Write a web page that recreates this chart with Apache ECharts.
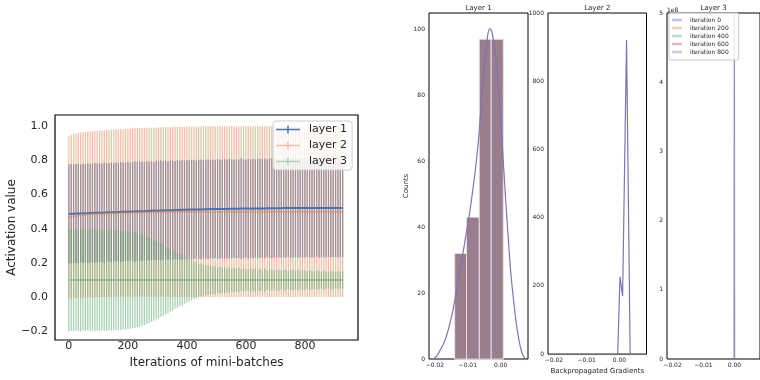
<!DOCTYPE html>
<html>
<head>
<meta charset="utf-8">
<script src="https://cdn.jsdelivr.net/npm/echarts@6/dist/echarts.min.js"></script>
<style>
  html, body { margin: 0; padding: 0; background: #fff; }
  #chart { width: 760px; height: 380px; }
</style>
</head>
<body>
<div id="chart"></div>
<script>
// ---- left panel: activation values per layer (mean +/- std) ----
const iterations = [
  0, 8, 16, 24, 32, 40, 48, 56, 64, 72,
  80, 88, 96, 104, 112, 120, 128, 136, 144, 152,
  160, 168, 176, 184, 192, 200, 208, 216, 224, 232,
  240, 248, 256, 264, 272, 280, 288, 296, 304, 312,
  320, 328, 336, 344, 352, 360, 368, 376, 384, 392,
  400, 408, 416, 424, 432, 440, 448, 456, 464, 472,
  480, 488, 496, 504, 512, 520, 528, 536, 544, 552,
  560, 568, 576, 584, 592, 600, 608, 616, 624, 632,
  640, 648, 656, 664, 672, 680, 688, 696, 704, 712,
  720, 728, 736, 744, 752, 760, 768, 776, 784, 792,
  800, 808, 816, 824, 832, 840, 848, 856, 864, 872,
  880, 888, 896, 904, 912, 920, 928
]

const layer1Mean = [
  0.487, 0.488, 0.488, 0.489, 0.489, 0.490, 0.490, 0.491, 0.491, 0.492,
  0.492, 0.493, 0.493, 0.494, 0.494, 0.495, 0.495, 0.496, 0.496, 0.497,
  0.497, 0.498, 0.498, 0.499, 0.499, 0.500, 0.500, 0.501, 0.501, 0.502,
  0.502, 0.503, 0.503, 0.504, 0.504, 0.505, 0.505, 0.506, 0.506, 0.507,
  0.507, 0.508, 0.508, 0.509, 0.509, 0.510, 0.510, 0.510, 0.511, 0.511,
  0.511, 0.512, 0.512, 0.512, 0.513, 0.513, 0.513, 0.514, 0.514, 0.514,
  0.515, 0.515, 0.515, 0.515, 0.516, 0.516, 0.516, 0.516, 0.517, 0.517,
  0.517, 0.517, 0.517, 0.518, 0.518, 0.518, 0.518, 0.518, 0.519, 0.519,
  0.519, 0.519, 0.519, 0.519, 0.520, 0.520, 0.520, 0.520, 0.520, 0.520,
  0.520, 0.521, 0.521, 0.521, 0.521, 0.521, 0.521, 0.521, 0.521, 0.522,
  0.522, 0.522, 0.522, 0.522, 0.522, 0.522, 0.522, 0.522, 0.522, 0.522,
  0.522, 0.522, 0.522, 0.522, 0.522, 0.522, 0.522
]
const layer1Std = [
  0.288, 0.290, 0.287, 0.289, 0.291, 0.286, 0.290, 0.288, 0.292, 0.287,
  0.289, 0.291, 0.288, 0.290, 0.286, 0.292, 0.289, 0.287, 0.291, 0.288,
  0.290, 0.287, 0.292, 0.289, 0.288, 0.291, 0.286, 0.290, 0.293, 0.288,
  0.289, 0.291, 0.287, 0.292, 0.288, 0.290, 0.286, 0.291, 0.289, 0.293,
  0.288, 0.290, 0.287, 0.291, 0.289, 0.286, 0.292, 0.288, 0.290, 0.287,
  0.291, 0.289, 0.293, 0.288, 0.286, 0.290, 0.292, 0.287, 0.289, 0.291,
  0.288, 0.290, 0.286, 0.293, 0.289, 0.287, 0.291, 0.288, 0.292, 0.289,
  0.287, 0.290, 0.288, 0.294, 0.289, 0.286, 0.291, 0.288, 0.290, 0.287,
  0.292, 0.289, 0.288, 0.291, 0.286, 0.290, 0.293, 0.288, 0.289, 0.287,
  0.291, 0.288, 0.290, 0.286, 0.292, 0.289, 0.287, 0.291, 0.288, 0.290,
  0.289, 0.287, 0.292, 0.288, 0.290, 0.286, 0.291, 0.289, 0.288, 0.290,
  0.287, 0.291, 0.289, 0.288, 0.290, 0.287, 0.289
]

const layer2Mean = [
  0.467, 0.471, 0.474, 0.476, 0.478, 0.480, 0.481, 0.482, 0.483, 0.484,
  0.485, 0.486, 0.487, 0.488, 0.488, 0.489, 0.490, 0.490, 0.491, 0.491,
  0.492, 0.492, 0.493, 0.493, 0.494, 0.494, 0.494, 0.495, 0.495, 0.495,
  0.496, 0.496, 0.496, 0.496, 0.497, 0.497, 0.497, 0.497, 0.498, 0.498,
  0.498, 0.498, 0.498, 0.498, 0.499, 0.499, 0.499, 0.499, 0.499, 0.499,
  0.500, 0.500, 0.500, 0.500, 0.500, 0.500, 0.500, 0.500, 0.500, 0.500,
  0.500, 0.500, 0.500, 0.500, 0.500, 0.500, 0.500, 0.500, 0.500, 0.500,
  0.500, 0.500, 0.500, 0.500, 0.500, 0.500, 0.500, 0.500, 0.500, 0.500,
  0.500, 0.500, 0.500, 0.500, 0.500, 0.500, 0.500, 0.500, 0.500, 0.500,
  0.500, 0.500, 0.500, 0.500, 0.500, 0.500, 0.500, 0.500, 0.500, 0.500,
  0.500, 0.500, 0.500, 0.500, 0.500, 0.500, 0.500, 0.500, 0.500, 0.500,
  0.500, 0.500, 0.500, 0.500, 0.500, 0.500, 0.500
]
const layer2Std = [
  0.475, 0.478, 0.480, 0.481, 0.482, 0.483, 0.483, 0.484, 0.484, 0.485,
  0.485, 0.486, 0.486, 0.487, 0.487, 0.488, 0.488, 0.488, 0.489, 0.489,
  0.489, 0.490, 0.490, 0.490, 0.491, 0.491, 0.491, 0.492, 0.492, 0.492,
  0.493, 0.493, 0.493, 0.494, 0.494, 0.494, 0.494, 0.495, 0.495, 0.495,
  0.495, 0.496, 0.496, 0.496, 0.496, 0.497, 0.497, 0.497, 0.497, 0.497,
  0.498, 0.498, 0.498, 0.498, 0.498, 0.498, 0.499, 0.499, 0.499, 0.499,
  0.499, 0.499, 0.499, 0.499, 0.499, 0.499, 0.499, 0.499, 0.499, 0.499,
  0.499, 0.499, 0.499, 0.499, 0.499, 0.499, 0.499, 0.499, 0.499, 0.499,
  0.499, 0.499, 0.499, 0.499, 0.499, 0.499, 0.499, 0.499, 0.499, 0.499,
  0.499, 0.499, 0.499, 0.499, 0.499, 0.499, 0.499, 0.499, 0.499, 0.499,
  0.499, 0.499, 0.499, 0.499, 0.499, 0.499, 0.499, 0.499, 0.499, 0.499,
  0.499, 0.499, 0.499, 0.499, 0.499, 0.499, 0.499
]

const layer3Mean = [
  0.100, 0.100, 0.100, 0.100, 0.100, 0.100, 0.100, 0.100, 0.100, 0.100,
  0.100, 0.100, 0.100, 0.100, 0.100, 0.100, 0.100, 0.100, 0.100, 0.100,
  0.100, 0.100, 0.100, 0.100, 0.100, 0.100, 0.100, 0.100, 0.100, 0.100,
  0.100, 0.100, 0.100, 0.100, 0.100, 0.100, 0.100, 0.100, 0.100, 0.100,
  0.100, 0.100, 0.100, 0.100, 0.100, 0.100, 0.100, 0.100, 0.100, 0.100,
  0.100, 0.100, 0.100, 0.100, 0.100, 0.100, 0.100, 0.100, 0.100, 0.100,
  0.100, 0.100, 0.100, 0.100, 0.100, 0.100, 0.100, 0.100, 0.100, 0.100,
  0.100, 0.100, 0.100, 0.100, 0.100, 0.100, 0.100, 0.100, 0.100, 0.100,
  0.100, 0.100, 0.100, 0.100, 0.100, 0.100, 0.100, 0.100, 0.100, 0.100,
  0.100, 0.100, 0.100, 0.100, 0.100, 0.100, 0.100, 0.100, 0.100, 0.100,
  0.100, 0.100, 0.100, 0.100, 0.100, 0.100, 0.100, 0.100, 0.100, 0.100,
  0.100, 0.100, 0.100, 0.100, 0.100, 0.100, 0.100
]
const layer3Std = [
  0.300, 0.296, 0.298, 0.294, 0.297, 0.299, 0.295, 0.298, 0.293, 0.297,
  0.296, 0.299, 0.294, 0.297, 0.292, 0.296, 0.298, 0.293, 0.295, 0.291,
  0.293, 0.290, 0.292, 0.287, 0.289, 0.284, 0.285, 0.280, 0.279, 0.274,
  0.272, 0.266, 0.263, 0.256, 0.251, 0.244, 0.238, 0.229, 0.222, 0.214,
  0.208, 0.199, 0.193, 0.184, 0.178, 0.168, 0.163, 0.153, 0.148, 0.138,
  0.132, 0.124, 0.119, 0.110, 0.106, 0.099, 0.096, 0.091, 0.088, 0.084,
  0.086, 0.079, 0.082, 0.075, 0.078, 0.072, 0.076, 0.070, 0.074, 0.068,
  0.071, 0.066, 0.073, 0.064, 0.069, 0.062, 0.067, 0.071, 0.063, 0.068,
  0.061, 0.066, 0.060, 0.069, 0.058, 0.064, 0.062, 0.057, 0.065, 0.060,
  0.056, 0.063, 0.059, 0.054, 0.062, 0.058, 0.055, 0.061, 0.053, 0.059,
  0.056, 0.052, 0.060, 0.055, 0.051, 0.058, 0.054, 0.050, 0.057, 0.053,
  0.049, 0.056, 0.052, 0.048, 0.055, 0.051, 0.050
]

// ---- right panels: gradient histograms + kde ----
const iterNames = ['iteration 0', 'iteration 200', 'iteration 400', 'iteration 600', 'iteration 800']
const iterColors = ['#4C72B0', '#DD8452', '#55A868', '#C44E52', '#8172B3']
const iterLegendColors = ['#b7c7df', '#f1ceba', '#bbdcc3', '#e7b8ba', '#cdc7e1']

const binEdges = [-0.0140, -0.0104, -0.0065, -0.0029, 0.0008]
const binCounts = [32, 43, 97, 97]

const kde1X = [-0.0205, -0.0195, -0.0185, -0.0170, -0.0155, -0.0140, -0.0125, -0.0110, -0.0095, -0.0080,
  -0.0068, -0.0058, -0.0048, -0.0040, -0.0033, -0.0026, -0.0018, -0.0010, -0.0002, 0.0006,
  0.0014, 0.0022, 0.0030, 0.0040, 0.0050, 0.0060, 0.0068, 0.0075]
const kde1Y = [0, 0.8, 2.5, 5.5, 10.5, 17.5, 26, 35, 44, 55,
  66, 79, 91, 98, 100.3, 99, 94, 86, 76, 63,
  50, 38, 27, 17, 9, 3.5, 1, 0]

const kde2X = [-0.0005, 0.0002, 0.0010, 0.0022, 0.0033]
const kde2Y = [0, 227, 170, 921, 0]

const kde3X = [-0.0001, 0.0000, 0.0001]
const kde3Y = [0, 6e8, 0]

const FONT = 'DejaVu Sans'
const INK = '#262626'

const fmtSigned = (v, d) => (v < -1e-12 ? '\u2212' : '') + Math.abs(v).toFixed(d)

const chart = echarts.init(document.getElementById('chart'))

const errSeries = (name, mean, std, color, opacity) => ({
  name,
  type: 'custom',
  xAxisIndex: 0,
  yAxisIndex: 0,
  clip: true,
  silent: true,
  data: iterations.map((it, i) => [it, mean[i] - std[i], mean[i] + std[i]]),
  encode: { x: 0, y: [1, 2] },
  renderItem: (params, api) => {
    const a = api.coord([api.value(0), api.value(1)])
    const b = api.coord([api.value(0), api.value(2)])
    return {
      type: 'line',
      shape: { x1: a[0], y1: a[1], x2: b[0], y2: b[1] },
      style: { stroke: color, lineWidth: 1.3, opacity },
    }
  },
})

const meanSeries = (name, mean, color, opacity) => ({
  name,
  type: 'line',
  xAxisIndex: 0,
  yAxisIndex: 0,
  silent: true,
  symbol: 'none',
  data: iterations.map((it, i) => [it, mean[i]]),
  lineStyle: { color, width: 2, opacity },
  itemStyle: { color },
})

const histSeries = iterNames.map((name, k) => ({
  name,
  type: 'custom',
  xAxisIndex: 1,
  yAxisIndex: 1,
  silent: true,
  data: binCounts.map((c, i) => [binEdges[i], binEdges[i + 1], c]),
  encode: { x: [0, 1], y: 2 },
  itemStyle: { color: iterColors[k] },
  renderItem: (params, api) => {
    const p0 = api.coord([api.value(0), 0])
    const p1 = api.coord([api.value(1), api.value(2)])
    return {
      type: 'rect',
      shape: { x: p0[0], y: p1[1], width: p1[0] - p0[0], height: p0[1] - p1[1] },
      style: { fill: iterColors[k], stroke: '#fff', lineWidth: 1, opacity: 0.4 },
    }
  },
}))

const kdeSeries = (name, xs, ys, idx, smooth, opacity) => ({
  name,
  type: 'line',
  xAxisIndex: idx,
  yAxisIndex: idx,
  silent: true,
  symbol: 'none',
  smooth,
  clip: true,
  data: xs.map((x, i) => [x, ys[i]]),
  lineStyle: { color: '#8172B3', width: 1.2, opacity },
})

const crossIcon = 'path://M0,3.25H24V4.75H0Z M11.25,0H12.75V8H11.25Z'

const panelX = (idx, name) => ({
  type: 'value',
  gridIndex: idx,
  min: -0.0218,
  max: 0.0083,
  splitNumber: 3,
  name,
  nameLocation: 'middle',
  nameGap: 11,
  nameTextStyle: { fontFamily: FONT, fontSize: 7, color: INK },
  axisLine: { show: false },
  axisTick: { show: false },
  splitLine: { show: false },
  axisLabel: {
    fontFamily: FONT, fontSize: 6, color: INK, margin: 3,
    showMinLabel: false, showMaxLabel: false,
    formatter: v => fmtSigned(v, 2),
  },
})

const titleX = (idx, name) => ({
  type: 'value',
  gridIndex: idx,
  position: 'top',
  min: -0.0218,
  max: 0.0083,
  name,
  nameLocation: 'middle',
  nameGap: 1,
  nameTextStyle: { fontFamily: FONT, fontSize: 7, color: INK },
  axisLine: { show: false },
  axisTick: { show: false },
  axisLabel: { show: false },
  splitLine: { show: false },
})

const panelY = (idx, max, interval, scale, extra) => Object.assign({
  type: 'value',
  gridIndex: idx,
  min: 0,
  max,
  interval,
  axisLine: { show: false },
  axisTick: { show: false },
  splitLine: { show: false },
  axisLabel: {
    fontFamily: FONT, fontSize: 6, color: INK, margin: 4,
    showMaxLabel: max % interval === 0,
    formatter: v => String(Math.round(v / scale)),
  },
}, extra)

chart.setOption({
  animation: false,
  backgroundColor: '#fff',
  grid: [
    { left: 55, top: 115, width: 303, height: 225, show: true, borderColor: '#000', borderWidth: 1.2 },
    { left: 429, top: 11, width: 99, height: 348, show: true, borderColor: '#000', borderWidth: 1 },
    { left: 548, top: 11, width: 98.5, height: 348, show: true, borderColor: '#000', borderWidth: 1 },
    { left: 667, top: 11, width: 98.5, height: 348, show: true, borderColor: '#000', borderWidth: 1 },
  ],
  xAxis: [
    {
      type: 'value',
      gridIndex: 0,
      min: -47,
      max: 980,
      splitNumber: 5,
      name: 'Iterations of mini-batches',
      nameLocation: 'middle',
      nameGap: 12,
      nameTextStyle: { fontFamily: FONT, fontSize: 12, color: INK },
      axisLine: { show: false },
      axisTick: { show: false },
      splitLine: { show: false },
      axisLabel: { fontFamily: FONT, fontSize: 11, color: INK, margin: 1, showMinLabel: false, showMaxLabel: false },
    },
    panelX(1, ''),
    panelX(2, 'Backpropagated Gradients'),
    panelX(3, ''),
    titleX(1, 'Layer 1'),
    titleX(2, 'Layer 2'),
    titleX(3, 'Layer 3'),
  ],
  yAxis: [
    {
      type: 'value',
      gridIndex: 0,
      min: -0.25,
      max: 1.065,
      splitNumber: 6,
      name: 'Activation value',
      nameLocation: 'middle',
      nameGap: 35,
      nameTextStyle: { fontFamily: FONT, fontSize: 12, color: INK },
      axisLine: { show: false },
      axisTick: { show: false },
      splitLine: { show: false },
      axisLabel: {
        fontFamily: FONT, fontSize: 11, color: INK, margin: 7,
        showMinLabel: false, showMaxLabel: false,
        formatter: v => fmtSigned(v, 1),
      },
    },
    panelY(1, 105, 20, 1, {
      name: 'Counts',
      nameLocation: 'middle',
      nameGap: 14,
      nameTextStyle: { fontFamily: FONT, fontSize: 7, color: INK },
    }),
    panelY(2, 1000, 200, 1, {}),
    panelY(3, 5e8, 1e8, 1e8, {}),
  ],
  graphic: [
    {
      type: 'text',
      left: 667,
      top: 7,
      z: 100,
      style: { text: '1e8', font: '6px "DejaVu Sans"', fill: INK },
    },
  ],
  legend: [
    {
      data: [
        { name: 'layer 1', itemStyle: { color: '#4C72B0' } },
        { name: 'layer 2', itemStyle: { color: '#eec1a8' } },
        { name: 'layer 3', itemStyle: { color: '#aad4b3' } },
      ],
      left: 273,
      top: 121,
      orient: 'vertical',
      icon: crossIcon,
      itemWidth: 24,
      itemHeight: 8,
      itemGap: 3,
      padding: [2, 5, 2, 3],
      backgroundColor: 'rgba(255,255,255,0.8)',
      borderColor: '#cccccc',
      borderWidth: 1,
      borderRadius: 3,
      selectedMode: false,
      textStyle: { fontFamily: FONT, fontSize: 11, color: INK, lineHeight: 13, padding: [0, 0, 0, 4] },
    },
    {
      data: iterNames.map((n, k) => ({ name: n, itemStyle: { color: iterLegendColors[k] } })),
      left: 669,
      top: 13,
      orient: 'vertical',
      icon: 'rect',
      itemWidth: 10,
      itemHeight: 2.5,
      itemGap: 0,
      padding: [3, 10, 4, 3],
      backgroundColor: 'rgba(255,255,255,0.8)',
      borderColor: '#cccccc',
      borderWidth: 1,
      borderRadius: 2,
      selectedMode: false,
      textStyle: { fontFamily: FONT, fontSize: 6, color: INK, lineHeight: 8, padding: [0, 0, 0, 3] },
    },
  ],
  series: [
    errSeries('layer 1', layer1Mean, layer1Std, '#4C72B0', 0.75),
    meanSeries('layer 1', layer1Mean, '#4C72B0', 1),
    errSeries('layer 2', layer2Mean, layer2Std, '#DD8452', 0.5),
    meanSeries('layer 2', layer2Mean, '#DD8452', 0.5),
    errSeries('layer 3', layer3Mean, layer3Std, '#55A868', 0.5),
    meanSeries('layer 3', layer3Mean, '#55A868', 0.5),
    ...histSeries,
    kdeSeries('kde layer 1', kde1X, kde1Y, 1, 0.3, 1),
    kdeSeries('kde layer 2', kde2X, kde2Y, 2, false, 1),
    kdeSeries('kde layer 3', kde3X, kde3Y, 3, false, 0.8),
  ],
})
</script>
</body>
</html>
